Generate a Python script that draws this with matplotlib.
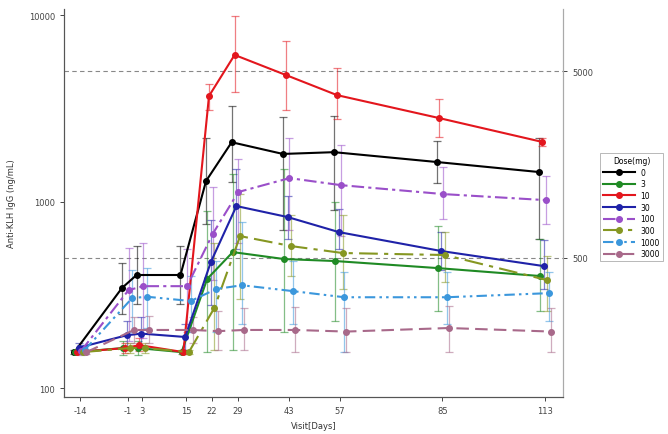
import numpy as np
import matplotlib
matplotlib.use("Agg")
import matplotlib.pyplot as plt
from matplotlib.lines import Line2D

days = [-14, -1, 3, 15, 22, 29, 43, 57, 85, 113]
day_labels = ["-14", "-1", "3", "15", "22", "29", "43", "57", "85", "113"]
doses = ["0", "3", "10", "30", "100", "300", "1000", "3000"]

# geometric means and error-bar bounds (ng/mL)
mean_0 = [156, 344, 404, 404, 1290, 2080, 1800, 1840, 1630, 1440]
hi_0 = [160, 468, 577, 577, 2190, 3250, 2840, 2870, 2100, 2200]
lo_0 = [152, 250, 282, 282, 760, 1270, 700, 900, 1250, 630]

mean_3 = [156, 164, 164, 156, 385, 536, 492, 480, 440, 399]
hi_3 = [160, 180, 180, 160, 890, 1400, 1500, 990, 740, 630]
lo_3 = [152, 150, 150, 152, 156, 160, 200, 229, 259, 259]

mean_10 = [156, 164, 170, 156, 3680, 6110, 4770, 3720, 2800, 2090]
hi_10 = [160, 175, 185, 160, 4270, 9900, 7250, 5200, 3550, 2200]
lo_10 = [152, 155, 158, 152, 3100, 3860, 3100, 2770, 2220, 1980]

mean_30 = [165, 192, 196, 188, 474, 946, 826, 686, 543, 451]
hi_30 = [175, 230, 240, 220, 800, 1500, 1070, 910, 690, 620]
lo_30 = [155, 165, 165, 160, 280, 560, 630, 560, 430, 340]

mean_100 = [158, 335, 352, 352, 670, 1125, 1336, 1225, 1097, 1018]
hi_100 = [170, 565, 600, 560, 1200, 1700, 2200, 2000, 1530, 1370]
lo_100 = [150, 180, 185, 200, 380, 600, 700, 650, 805, 760]

mean_300 = [156, 164, 164, 156, 270, 653, 577, 530, 517, 379]
hi_300 = [160, 175, 175, 160, 600, 1100, 850, 850, 690, 510]
lo_300 = [152, 155, 155, 152, 160, 300, 400, 340, 370, 260]

mean_1000 = [160, 304, 309, 293, 340, 356, 331, 307, 307, 323]
hi_1000 = [170, 430, 440, 400, 480, 775, 480, 420, 420, 420]
lo_1000 = [152, 200, 210, 200, 200, 220, 220, 156, 220, 230]

mean_3000 = [156, 205, 205, 205, 202, 205, 205, 201, 210, 201]
hi_3000 = [160, 240, 245, 240, 260, 270, 272, 270, 275, 270]
lo_3000 = [152, 175, 175, 175, 160, 160, 156, 156, 156, 156]

means = [mean_0, mean_3, mean_10, mean_30, mean_100, mean_300, mean_1000, mean_3000]
his = [hi_0, hi_3, hi_10, hi_30, hi_100, hi_300, hi_1000, hi_3000]
los = [lo_0, lo_3, lo_10, lo_30, lo_100, lo_300, lo_1000, lo_3000]

colors = ["#000000", "#1f8a24", "#e3161d", "#1f22a8",
          "#9a4fc9", "#869722", "#3b97dc", "#a8698a"]
styles = ["-", "-", "-", "-",
          (0, (6, 2, 1.5, 2)), (0, (9, 3, 2, 3)),
          (0, (5, 2, 1.2, 2, 1.2, 2)), (0, (6, 3))]
offsets = [-1.6, -1.3, -0.8, -0.3, 0.2, 0.7, 1.2, 1.7]

fig = plt.figure(figsize=(6.68, 4.35), dpi=100)
ax = fig.add_axes([0.096, 0.085, 0.747, 0.892])

x = np.array(days, dtype=float)
for i, d in enumerate(doses):
    m = np.array(means[i])
    yerr = [m - np.array(los[i]), np.array(his[i]) - m]
    xs = x + offsets[i]
    ax.errorbar(xs, m, yerr=yerr, fmt="none", ecolor=colors[i], alpha=0.55,
                elinewidth=0.9, capsize=3, capthick=0.9, zorder=2)
    ax.plot(xs, m, color=colors[i], linestyle=styles[i], linewidth=1.5,
            marker="o", markersize=4, zorder=3)

ax.axhline(500, color="#888888", linestyle=(0, (4, 3)), linewidth=0.8, zorder=1)
ax.axhline(5000, color="#888888", linestyle=(0, (4, 3)), linewidth=0.8, zorder=1)

ax.set_yscale("log")
ax.set_ylim(89.6, 10770)
ax.set_xlim(-18.4, 118)
ax.set_yticks([100, 1000, 10000])
ax.set_yticklabels(["100", "1000", "10000"])
ax.yaxis.set_minor_locator(matplotlib.ticker.NullLocator())
ax.set_xticks(days)
ax.set_xticklabels(day_labels)
ax.tick_params(labelsize=6, length=3, width=0.7, colors="#444444")

ax2 = ax.twinx()
ax2.set_yscale("log")
ax2.set_ylim(89.6, 10770)
ax2.set_yticks([500, 5000])
ax2.set_yticklabels(["500", "5000"])
ax2.yaxis.set_minor_locator(matplotlib.ticker.NullLocator())
ax2.tick_params(labelsize=6, length=3, width=0.7, colors="#444444")

for a in [ax, ax2]:
    a.spines["top"].set_visible(False)
    a.spines["left"].set_color("#555555")
    a.spines["bottom"].set_color("#555555")
    a.spines["right"].set_color("#aaaaaa")

ax.set_ylabel("Anti-KLH IgG (ng/mL)", fontsize=6, color="#333333", labelpad=9)
ax.set_xlabel("Visit[Days]", fontsize=6, color="#333333", labelpad=4)

handles = [Line2D([0], [0], color=colors[i], linestyle=styles[i], linewidth=1.5,
                  marker="o", markersize=4, label=doses[i])
           for i in range(len(doses))]
leg = fig.legend(handles=handles, title="Dose(mg)", loc="upper left",
                 bbox_to_anchor=(0.893, 0.655), fontsize=5.5, title_fontsize=5.5,
                 frameon=True, fancybox=False, handlelength=4.2, handletextpad=0.6,
                 labelspacing=0.35, borderpad=0.4)
leg.get_frame().set_edgecolor("#999999")
leg.get_frame().set_linewidth(0.6)

fig.savefig("out.png", dpi=100)
